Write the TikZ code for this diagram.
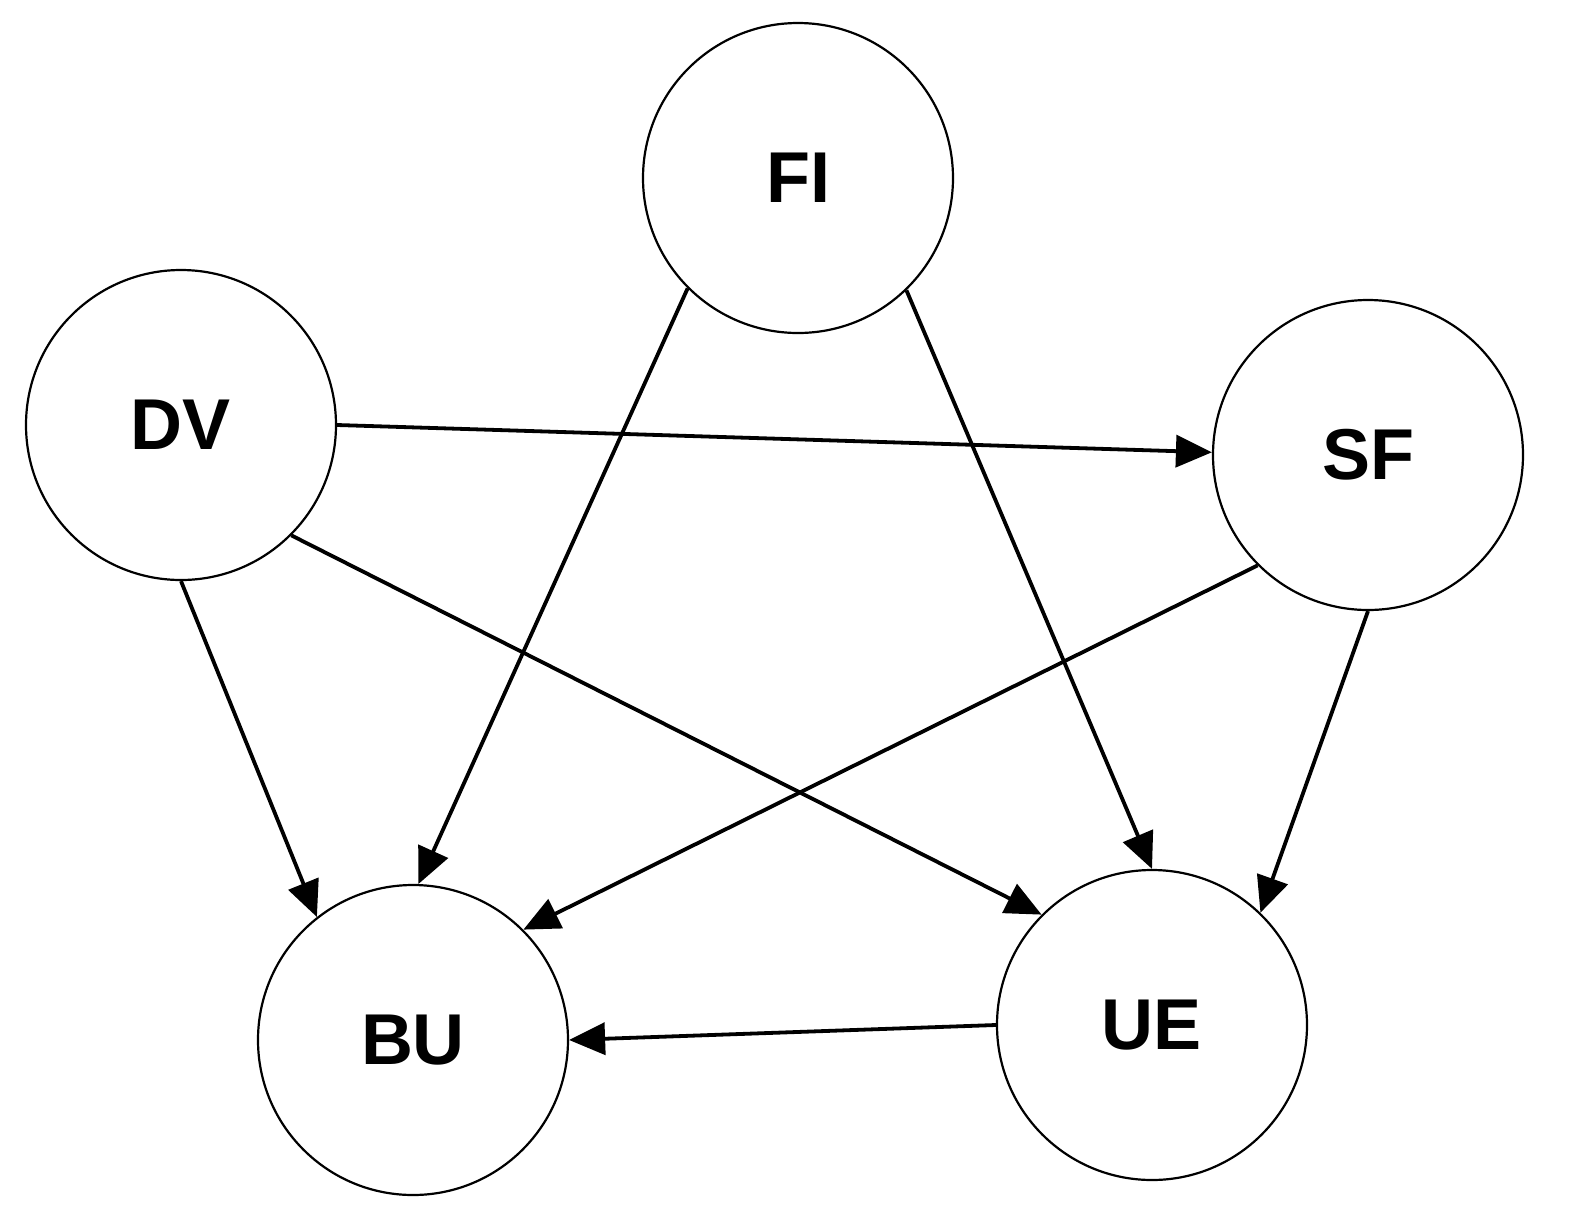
\documentclass[tikz,border=0pt]{standalone}
\usepackage{fontspec}
\setmainfont{Liberation Sans}
\usetikzlibrary{arrows.meta}
\begin{document}
\begin{tikzpicture}[x=0.5pt,y=-0.5pt,
  st/.style={circle,draw,line width=1.1pt,minimum size=155pt,inner sep=0pt,font=\fontsize{36}{38}\selectfont\bfseries},
  ar/.style={line width=1.9pt,-{Triangle[length=18pt,width=16pt]}}]
\useasboundingbox (0,0) rectangle (1571,1222);
\node[st] (FI) at (798,178) {FI};
\node[st] (DV) at (181,425) {DV};
\node[st] (SF) at (1368,455) {SF};
\node[st] (BU) at (413,1040) {BU};
\node[st] (UE) at (1152,1025) {UE};
\draw[ar] (FI.225) -- (BU.88);
\draw[ar] (FI.314) -- (UE.90);
\draw[ar] (DV.0) -- (SF.179);
\draw[ar] (DV.270) -- (BU.128);
\draw[ar] (DV.315) -- (UE.135);
\draw[ar] (SF.225) -- (BU.45);
\draw[ar] (SF.270) -- (UE.46);
\draw[ar] (UE.180) -- (BU.0);
\end{tikzpicture}
\end{document}
